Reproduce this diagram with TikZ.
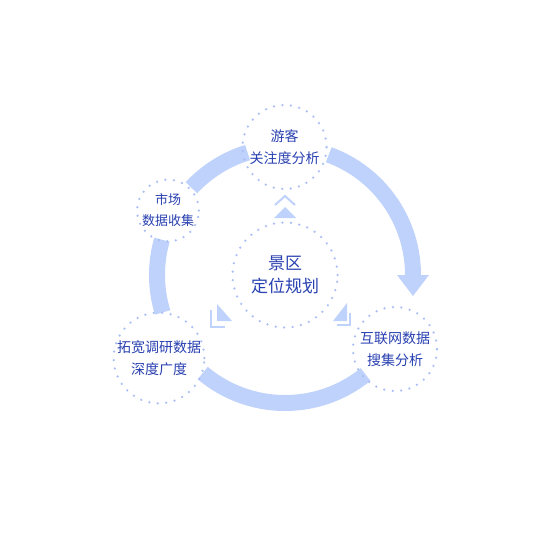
\documentclass[tikz,border=0pt]{standalone}
\usepackage{fontspec}
\setmainfont{Noto Sans CJK SC}
\usetikzlibrary{calc}

\definecolor{ringblue}{HTML}{BED2FB}
\definecolor{dotblue}{HTML}{A9BFF5}
\definecolor{textblue}{HTML}{2840B0}

\begin{document}
\begin{tikzpicture}[x=1pt, y=-1pt, font=\fontsize{14}{22}\selectfont, text=textblue]
    \tikzstyle{ring}=[draw=ringblue, line width=16pt]
    \tikzstyle{spot}=[circle, draw=dotblue, line width=2.5pt, line cap=round, dash pattern=on 0pt off 8.5pt, align=center, inner sep=0pt]
    \tikzstyle{tip}=[fill=ringblue]
    \tikzstyle{hat}=[draw=ringblue, line width=2pt]

    \useasboundingbox[fill=white] (0,0) rectangle (554,554);
    \coordinate (hub) at (285,275);

    % ring around the centre
    \draw[ring] ($(hub)+(-70:128)$) arc[start angle=-70, end angle=0, radius=128];
    \draw[ring] ($(hub)+(-107:128)$) arc[start angle=-107, end angle=-137, radius=128];
    \draw[ring] ($(hub)+(-164:128)$) arc[start angle=-164, end angle=-197, radius=128];
    \draw[ring] ($(hub)+(-230:128)$) arc[start angle=-230, end angle=-309, radius=128];
    \fill[tip] (397,275) -- (429,275) -- (413,296) -- cycle;

    \node[spot, minimum size=105pt, font=\fontsize{17}{23}\selectfont] (plan) at (hub) {景区\\定位规划};
    \node[spot, minimum size=84pt] (visitor) at (284.5,147) {游客\\关注度分析};
    \node[spot, minimum size=61pt, font=\fontsize{13}{21}\selectfont] (market) at (168,210.5) {市场\\数据收集};
    \node[spot, minimum size=88pt] (survey) at (159,358) {拓宽调研数据\\深度广度};
    \node[spot, minimum size=84pt] (web) at (395,349) {互联网数据\\搜集分析};

    % small pointers round the centre
    \fill[tip] (274,218) -- (285,207) -- (296,218) -- cycle;
    \draw[hat] (275,205) -- (285,196) -- (295,205);
    \fill[tip] (217,304) -- (217,321) -- (232,321) -- cycle;
    \draw[hat] (210.5,310) -- (210.5,326.5) -- (225,326.5);
    \fill[tip] (347,303) -- (347,321) -- (333,321) -- cycle;
    \draw[hat] (349.5,313) -- (349.5,325) -- (337,325);
\end{tikzpicture}
\end{document}
